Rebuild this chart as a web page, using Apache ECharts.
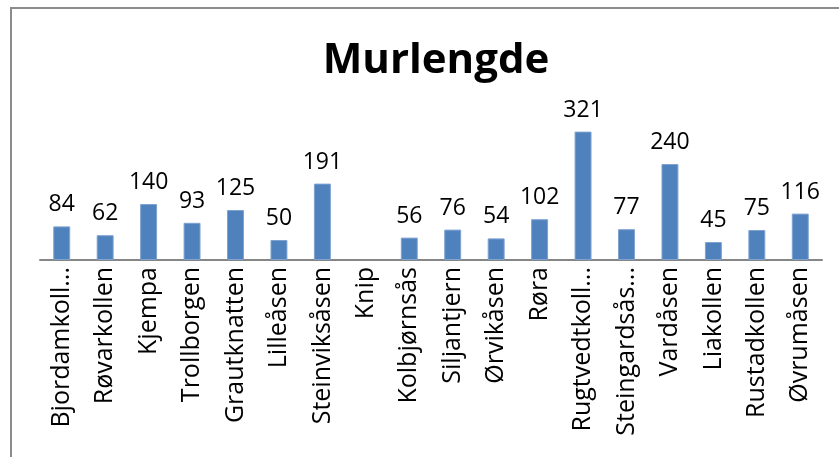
<!DOCTYPE html>
<html>
<head>
<meta charset="utf-8">
<script src="https://cdn.jsdelivr.net/npm/echarts@6/dist/echarts.min.js"></script>
<style>
  html, body { margin: 0; padding: 0; background: #fff; }
  #main { width: 839px; height: 457px; }
</style>
</head>
<body>
<div id="main"></div>
<script>
var title = 'Murlengde';
// names as they appear (Excel cut the longest ones)
var places = ['Bjordamkoll...', 'Røvarkollen', 'Kjempa', 'Trollborgen', 'Grautknatten',
    'Lilleåsen', 'Steinviksåsen', 'Knip', 'Kolbjørnsås', 'Siljantjern', 'Ørvikåsen',
    'Røra', 'Rugtvedtkoll...', 'Steingardsås...', 'Vardåsen', 'Liakollen', 'Rustadkollen', 'Øvrumåsen'];
var lengths = [84, 62, 140, 93, 125, 50, 191, null, 56, 76, 54, 102, 321, 77, 240, 45, 75, 116];

var fontFamily = '"Open Sans", sans-serif';

var chart = echarts.init(document.getElementById('main'));
var option = {
    animation: false,
    backgroundColor: '#fff',
    title: {
        text: title,
        left: 431,
        textAlign: 'center',
        top: 35,
        textStyle: {
            color: '#000',
            fontSize: 42,
            fontWeight: 'bold',
            fontFamily: fontFamily
        }
    },
    graphic: [{
        type: 'rect',
        shape: {x: 11, y: 8, width: 900, height: 500},
        style: {fill: 'none', stroke: '#8c8c8c', lineWidth: 2},
        silent: true
    }],
    grid: {
        left: 40,
        right: 17,
        top: 120,
        bottom: 197
    },
    xAxis: {
        type: 'category',
        data: places,
        axisLine: {lineStyle: {color: '#868686', width: 2}},
        axisTick: {show: false},
        axisLabel: {
            rotate: 90,
            interval: 0,
            margin: 7,
            color: '#000',
            fontSize: 25,
            fontFamily: fontFamily
        }
    },
    yAxis: {
        type: 'value',
        min: 0,
        max: 350,
        show: false
    },
    series: [{
        type: 'bar',
        data: lengths,
        barCategoryGap: '61%',
        itemStyle: {
            color: '#4f81bd',
            borderColor: '#7ea3d1',
            borderWidth: 1
        },
        label: {
            show: true,
            position: 'top',
            distance: 10,
            color: '#000',
            fontSize: 23,
            fontFamily: fontFamily
        }
    }]
};
chart.setOption(option);
</script>
</body>
</html>
